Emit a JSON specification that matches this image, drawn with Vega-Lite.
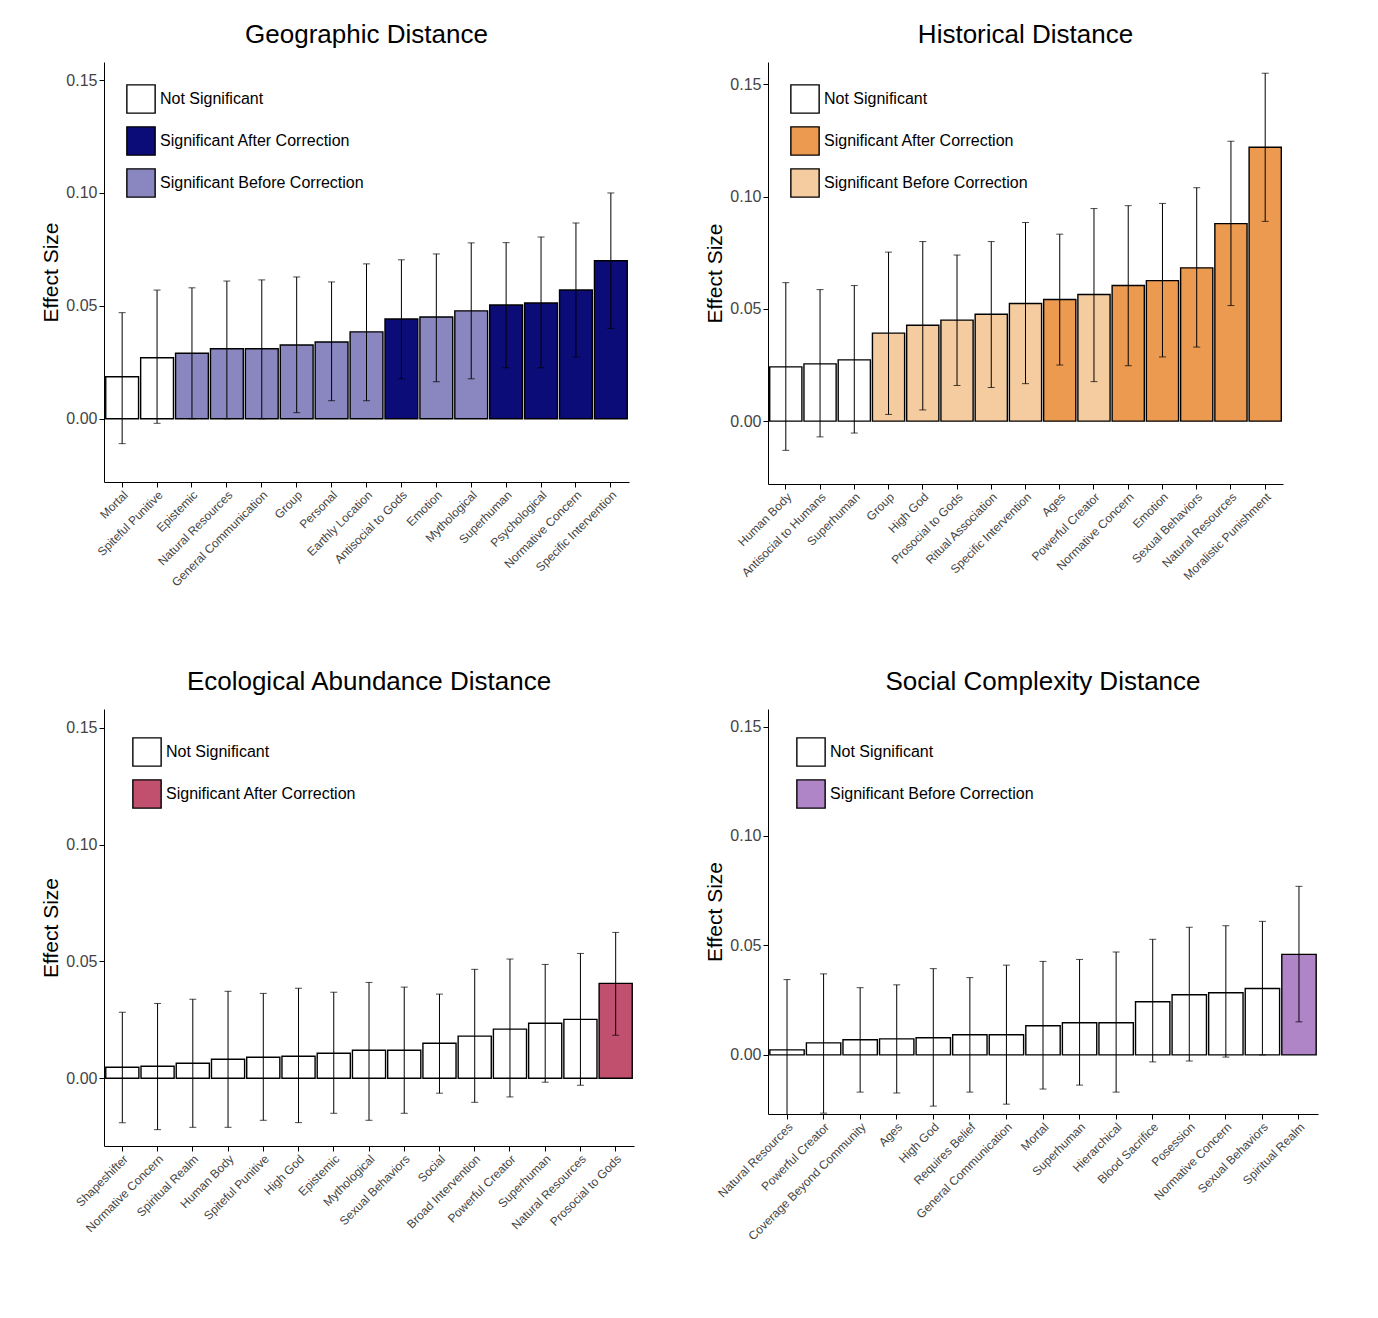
{
"$schema":"https://vega.github.io/schema/vega-lite/v6.json",
"padding":{"left":40,"top":22,"right":5,"bottom":5},
"config":{"font":"Liberation Sans","view":{"stroke":null},"axis":{"grid":false,"domainColor":"black","tickColor":"black","labelColor":"#444","titleFontSize":21,"titleFontWeight":"normal","titleColor":"black"},"axisY":{"labelFontSize":16},"axisX":{"labelFontSize":12},"title":{"fontSize":26,"fontWeight":"normal","offset":14},"legend":{"labelFontSize":16,"labelLimit":400,"symbolType":"square","symbolSize":800,"symbolStrokeColor":"black","symbolStrokeWidth":1.4,"rowPadding":8,"orient":"top-left","offset":22,"title":null}},
"columns":2,"spacing":{"row":80,"column":70},
"resolve":{"scale":{"color":"independent"}},
"concat":[
{"title":"Geographic Distance","width":525,"height":420,
"data":{"values":[
{"name":"Mortal","v":0.0186,"hi":0.047,"lo":-0.011,"sig":"Not Significant"},
{"name":"Spiteful Punitive","v":0.027,"hi":0.057,"lo":-0.002,"sig":"Not Significant"},
{"name":"Epistemic","v":0.029,"hi":0.058,"lo":0.0,"sig":"Significant Before Correction"},
{"name":"Natural Resources","v":0.031,"hi":0.061,"lo":0.0,"sig":"Significant Before Correction"},
{"name":"General Communication","v":0.031,"hi":0.0615,"lo":0.0,"sig":"Significant Before Correction"},
{"name":"Group","v":0.0327,"hi":0.0628,"lo":0.0027,"sig":"Significant Before Correction"},
{"name":"Personal","v":0.034,"hi":0.0606,"lo":0.008,"sig":"Significant Before Correction"},
{"name":"Earthly Location","v":0.0385,"hi":0.0686,"lo":0.008,"sig":"Significant Before Correction"},
{"name":"Antisocial to Gods","v":0.0442,"hi":0.0704,"lo":0.0177,"sig":"Significant After Correction"},
{"name":"Emotion","v":0.0451,"hi":0.073,"lo":0.0164,"sig":"Significant Before Correction"},
{"name":"Mythological","v":0.0478,"hi":0.0779,"lo":0.0177,"sig":"Significant Before Correction"},
{"name":"Superhuman","v":0.0504,"hi":0.078,"lo":0.0226,"sig":"Significant After Correction"},
{"name":"Psychological","v":0.0513,"hi":0.0805,"lo":0.0226,"sig":"Significant After Correction"},
{"name":"Normative Concern","v":0.057,"hi":0.0867,"lo":0.0274,"sig":"Significant After Correction"},
{"name":"Specific Intervention","v":0.070,"hi":0.100,"lo":0.040,"sig":"Significant After Correction"}]},
"encoding":{"x":{"field":"name","type":"nominal","sort":null,"title":null,"scale":{"paddingInner":0.06,"paddingOuter":0.05},"axis":{"labelAngle":-45}}},
"layer":[
{"mark":{"type":"bar","stroke":"black","strokeWidth":1.4,"clip":true},
"encoding":{"y":{"field":"v","type":"quantitative","title":"Effect Size","scale":{"domain":[-0.028,0.158],"nice":false},"axis":{"values":[0,0.05,0.1,0.15],"format":".2f"}},
"color":{"field":"sig","type":"nominal","sort":null,"scale":{"domain":["Not Significant","Significant After Correction","Significant Before Correction"],"range":["white","#0c0c78","#8a86c0"]}}}},
{"mark":{"type":"errorbar","ticks":{"size":7,"color":"black"},"color":"black","clip":true},"encoding":{"y":{"field":"lo","type":"quantitative","title":"Effect Size"},"y2":{"field":"hi"}}}]},
{"title":"Historical Distance","width":515,"height":422,
"data":{"values":[
{"name":"Human Body","v":0.0242,"hi":0.0617,"lo":-0.013,"sig":"Not Significant"},
{"name":"Antisocial to Humans","v":0.0255,"hi":0.0586,"lo":-0.007,"sig":"Not Significant"},
{"name":"Superhuman","v":0.0273,"hi":0.0604,"lo":-0.0053,"sig":"Not Significant"},
{"name":"Group","v":0.0392,"hi":0.0753,"lo":0.003,"sig":"Significant Before Correction"},
{"name":"High God","v":0.0427,"hi":0.080,"lo":0.005,"sig":"Significant Before Correction"},
{"name":"Prosocial to Gods","v":0.045,"hi":0.074,"lo":0.0159,"sig":"Significant Before Correction"},
{"name":"Ritual Association","v":0.0476,"hi":0.080,"lo":0.015,"sig":"Significant Before Correction"},
{"name":"Specific Intervention","v":0.0524,"hi":0.0885,"lo":0.0167,"sig":"Significant Before Correction"},
{"name":"Ages","v":0.0542,"hi":0.0833,"lo":0.025,"sig":"Significant After Correction"},
{"name":"Powerful Creator","v":0.0564,"hi":0.0947,"lo":0.0176,"sig":"Significant Before Correction"},
{"name":"Normative Concern","v":0.0604,"hi":0.096,"lo":0.0247,"sig":"Significant After Correction"},
{"name":"Emotion","v":0.0626,"hi":0.097,"lo":0.0286,"sig":"Significant After Correction"},
{"name":"Sexual Behaviors","v":0.0683,"hi":0.104,"lo":0.033,"sig":"Significant After Correction"},
{"name":"Natural Resources","v":0.088,"hi":0.1247,"lo":0.0515,"sig":"Significant After Correction"},
{"name":"Moralistic Punishment","v":0.122,"hi":0.155,"lo":0.089,"sig":"Significant After Correction"}]},
"encoding":{"x":{"field":"name","type":"nominal","sort":null,"title":null,"scale":{"paddingInner":0.06,"paddingOuter":0.05},"axis":{"labelAngle":-45}}},
"layer":[
{"mark":{"type":"bar","stroke":"black","strokeWidth":1.4,"clip":true},
"encoding":{"y":{"field":"v","type":"quantitative","title":"Effect Size","scale":{"domain":[-0.028,0.16],"nice":false},"axis":{"values":[0,0.05,0.1,0.15],"format":".2f"}},
"color":{"field":"sig","type":"nominal","sort":null,"scale":{"domain":["Not Significant","Significant After Correction","Significant Before Correction"],"range":["white","#eb9a50","#f5cca0"]}}}},
{"mark":{"type":"errorbar","ticks":{"size":7,"color":"black"},"color":"black","clip":true},"encoding":{"y":{"field":"lo","type":"quantitative","title":"Effect Size"},"y2":{"field":"hi"}}}]},
{"title":"Ecological Abundance Distance","width":530,"height":437,
"data":{"values":[
{"name":"Shapeshifter","v":0.0047,"hi":0.0282,"lo":-0.019,"sig":"Not Significant"},
{"name":"Normative Concern","v":0.0051,"hi":0.032,"lo":-0.022,"sig":"Not Significant"},
{"name":"Spiritual Realm","v":0.0064,"hi":0.0338,"lo":-0.021,"sig":"Not Significant"},
{"name":"Human Body","v":0.0081,"hi":0.0372,"lo":-0.021,"sig":"Not Significant"},
{"name":"Spiteful Punitive","v":0.009,"hi":0.0363,"lo":-0.018,"sig":"Not Significant"},
{"name":"High God","v":0.0094,"hi":0.0385,"lo":-0.019,"sig":"Not Significant"},
{"name":"Epistemic","v":0.0107,"hi":0.0368,"lo":-0.015,"sig":"Not Significant"},
{"name":"Mythological","v":0.012,"hi":0.041,"lo":-0.018,"sig":"Not Significant"},
{"name":"Sexual Behaviors","v":0.012,"hi":0.039,"lo":-0.015,"sig":"Not Significant"},
{"name":"Social","v":0.015,"hi":0.036,"lo":-0.0064,"sig":"Not Significant"},
{"name":"Broad Intervention","v":0.018,"hi":0.0466,"lo":-0.0103,"sig":"Not Significant"},
{"name":"Powerful Creator","v":0.021,"hi":0.051,"lo":-0.008,"sig":"Not Significant"},
{"name":"Superhuman","v":0.0235,"hi":0.0487,"lo":-0.0017,"sig":"Not Significant"},
{"name":"Natural Resources","v":0.0252,"hi":0.0534,"lo":-0.003,"sig":"Not Significant"},
{"name":"Prosocial to Gods","v":0.0406,"hi":0.0624,"lo":0.0184,"sig":"Significant After Correction"}]},
"encoding":{"x":{"field":"name","type":"nominal","sort":null,"title":null,"scale":{"paddingInner":0.06,"paddingOuter":0.05},"axis":{"labelAngle":-45}}},
"layer":[
{"mark":{"type":"bar","stroke":"black","strokeWidth":1.4,"clip":true},
"encoding":{"y":{"field":"v","type":"quantitative","title":"Effect Size","scale":{"domain":[-0.029,0.158],"nice":false},"axis":{"values":[0,0.05,0.1,0.15],"format":".2f"}},
"color":{"field":"sig","type":"nominal","sort":null,"scale":{"domain":["Not Significant","Significant After Correction"],"range":["white","#c0506e"]},"legend":{"offset":28}}}},
{"mark":{"type":"errorbar","ticks":{"size":7,"color":"black"},"color":"black","clip":true},"encoding":{"y":{"field":"lo","type":"quantitative","title":"Effect Size"},"y2":{"field":"hi"}}}]},
{"title":"Social Complexity Distance","width":550,"height":405,
"data":{"values":[
{"name":"Natural Resources","v":0.0023,"hi":0.0344,"lo":-0.032,"sig":"Not Significant"},
{"name":"Powerful Creator","v":0.0055,"hi":0.037,"lo":-0.0266,"sig":"Not Significant"},
{"name":"Coverage Beyond Community","v":0.0069,"hi":0.0307,"lo":-0.017,"sig":"Not Significant"},
{"name":"Ages","v":0.0073,"hi":0.032,"lo":-0.0174,"sig":"Not Significant"},
{"name":"High God","v":0.0078,"hi":0.0394,"lo":-0.0234,"sig":"Not Significant"},
{"name":"Requires Belief","v":0.0092,"hi":0.0353,"lo":-0.017,"sig":"Not Significant"},
{"name":"General Communication","v":0.0092,"hi":0.041,"lo":-0.0225,"sig":"Not Significant"},
{"name":"Mortal","v":0.0133,"hi":0.0427,"lo":-0.0156,"sig":"Not Significant"},
{"name":"Superhuman","v":0.0147,"hi":0.0436,"lo":-0.0138,"sig":"Not Significant"},
{"name":"Hierarchical","v":0.0147,"hi":0.047,"lo":-0.017,"sig":"Not Significant"},
{"name":"Blood Sacrifice","v":0.0243,"hi":0.0528,"lo":-0.0032,"sig":"Not Significant"},
{"name":"Posession","v":0.0275,"hi":0.0583,"lo":-0.0028,"sig":"Not Significant"},
{"name":"Normative Concern","v":0.0284,"hi":0.059,"lo":-0.001,"sig":"Not Significant"},
{"name":"Sexual Behaviors","v":0.0303,"hi":0.061,"lo":0.0,"sig":"Not Significant"},
{"name":"Spiritual Realm","v":0.0459,"hi":0.077,"lo":0.0151,"sig":"Significant Before Correction"}]},
"encoding":{"x":{"field":"name","type":"nominal","sort":null,"title":null,"scale":{"paddingInner":0.06,"paddingOuter":0.05},"axis":{"labelAngle":-45}}},
"layer":[
{"mark":{"type":"bar","stroke":"black","strokeWidth":1.4,"clip":true},
"encoding":{"y":{"field":"v","type":"quantitative","title":"Effect Size","scale":{"domain":[-0.027,0.158],"nice":false},"axis":{"values":[0,0.05,0.1,0.15],"format":".2f"}},
"color":{"field":"sig","type":"nominal","sort":null,"scale":{"domain":["Not Significant","Significant Before Correction"],"range":["white","#b085c8"]},"legend":{"offset":28}}}},
{"mark":{"type":"errorbar","ticks":{"size":7,"color":"black"},"color":"black","clip":true},"encoding":{"y":{"field":"lo","type":"quantitative","title":"Effect Size"},"y2":{"field":"hi"}}}]}
]}
